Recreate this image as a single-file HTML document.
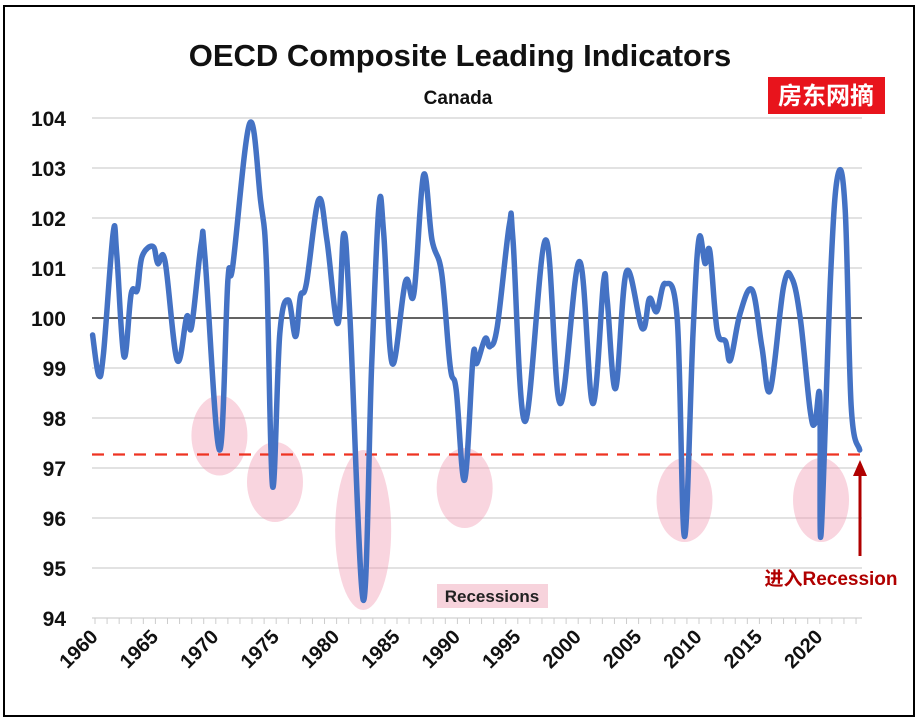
<!DOCTYPE html>
<html><head><meta charset="utf-8"><style>
body{margin:0;background:#fff;}
svg{display:block;font-family:"Liberation Sans","Noto Sans CJK SC",sans-serif;}
</style></head><body>
<svg id="chart" width="919" height="721" viewBox="0 0 919 721">
<rect x="4" y="6" width="910" height="710" fill="#fff" stroke="#000" stroke-width="2"/>
<text x="460" y="66" text-anchor="middle" font-size="31" font-weight="bold" fill="#111">OECD Composite Leading Indicators</text>
<text x="458" y="104" text-anchor="middle" font-size="19" font-weight="bold" fill="#111">Canada</text>
<rect x="768" y="77" width="117" height="37" fill="#e8141c"/>
<text x="826" y="104" text-anchor="middle" font-size="24" font-weight="bold" fill="#fff">房东网摘</text>
<g id="grid"></g>
<g id="shade"></g>
<g id="marks"></g>
<rect x="437" y="584" width="111" height="24" fill="#f7d3dc"/>
<text x="492" y="602" text-anchor="middle" font-size="17" font-weight="bold" fill="#222">Recessions</text>
<line x1="860" y1="556" x2="860" y2="474" stroke="#b00000" stroke-width="3"/>
<polygon points="860,460 853,476 867,476" fill="#b00000"/>
<text x="831" y="585" text-anchor="middle" font-size="19" font-weight="bold" fill="#b00000">进入Recession</text>
</svg>
<script>
const yTicks=[94,95,96,97,98,99,100,101,102,103,104];
const xTickYears=[1960,1965,1970,1975,1980,1985,1990,1995,2000,2005,2010,2015,2020];
const years=[1959.8,1960.3,1960.7,1961.5,1961.8,1962.4,1963.0,1963.5,1963.9,1964.8,1965.2,1965.8,1966.8,1967.6,1968.0,1968.8,1969.1,1970.3,1971.0,1971.4,1972.8,1973.7,1974.2,1974.7,1975.3,1976.0,1976.6,1977.0,1977.5,1978.5,1979.2,1980.1,1980.6,1981.1,1982.2,1982.9,1983.5,1983.9,1984.6,1985.7,1986.4,1987.2,1987.9,1988.7,1989.4,1989.9,1990.6,1991.3,1991.6,1992.3,1992.7,1993.3,1994.3,1994.6,1995.6,1997.3,1998.5,2000.1,2001.2,2002.1,2002.4,2003.1,2004.0,2005.3,2005.9,2006.5,2007.2,2008.2,2008.8,2009.5,2010.0,2010.5,2010.9,2011.5,2012.2,2012.6,2013.4,2014.4,2015.2,2015.9,2017.0,2017.7,2018.4,2019.2,2019.6,2020.0,2020.1,2020.9,2021.5,2022.1,2022.6,2023.3];
const cli=[99.66,98.86,99.29,101.69,101.29,99.23,100.49,100.56,101.23,101.43,101.09,101.13,99.16,100.03,99.83,101.49,101.23,97.36,100.76,101.03,103.89,102.36,101.03,96.63,99.69,100.36,99.63,100.43,100.69,102.36,101.56,99.89,101.69,100.03,94.36,99.03,102.23,101.69,99.09,100.73,100.49,102.86,101.56,100.89,99.03,98.56,96.76,99.23,99.09,99.59,99.43,99.83,101.86,101.56,97.93,101.56,98.29,101.13,98.29,100.73,100.36,98.59,100.93,99.79,100.39,100.13,100.69,99.96,95.63,99.69,101.59,101.09,101.33,99.76,99.53,99.16,100.09,100.56,99.43,98.56,100.63,100.79,99.96,98.16,97.89,98.43,95.66,100.89,102.86,102.16,98.23,97.36];
const recessionYears=[1970.3,1974.9,1982.2,1990.6,2008.8,2020.1];
const recessionCenters=[97.65,96.72,95.76,96.6,96.36,96.36];
const recessionHalfHeights=[0.8,0.8,1.6,0.8,0.84,0.84];
const baseline=100;
const threshold=97.27;
const X=y=>95+(y-1960)*12.08;
const Y=v=>118+(104-v)*50;
const NS='http://www.w3.org/2000/svg';
function mk(tag,attrs,parent){const e=document.createElementNS(NS,tag);for(const k in attrs)e.setAttribute(k,attrs[k]);parent.appendChild(e);return e;}
const grid=document.getElementById('grid'),shade=document.getElementById('shade'),marks=document.getElementById('marks');
yTicks.forEach(t=>{
  const l=mk('line',{x1:92,x2:862,y1:Y(t),y2:Y(t),stroke:'#d9d9d9','stroke-width':1.5},grid);
  
  
  const tx=mk('text',{x:66,y:Y(t)+8,'text-anchor':'end','font-size':21,'font-weight':'bold',fill:'#111'},grid);
  tx.textContent=t;
  
  
});
for(let yr=1960;yr<=2023;yr++){
  const tk=mk('line',{x1:X(yr),x2:X(yr),y1:Y(94),y2:Y(94)+6,stroke:'#ccc','stroke-width':1},grid);
  
  
}
xTickYears.forEach(yr=>{
  const tx=mk('text',{x:0,y:0,'text-anchor':'end','font-size':20,'font-weight':'bold',fill:'#111',transform:`translate(${X(yr)+4},${638}) rotate(-45)`},grid);
  tx.textContent=yr;
  
  
});
recessionYears.forEach((yr,i)=>{
  const e=mk('ellipse',{cx:X(yr),cy:Y(recessionCenters[i]),rx:28,ry:recessionHalfHeights[i]*50,fill:'rgba(240,150,175,0.4)'},shade);
  
  
});
const bl=mk('line',{x1:92,x2:862,y1:Y(baseline),y2:Y(baseline),stroke:'#111','stroke-width':1.3},marks);


const th=mk('line',{x1:92,x2:862,y1:Y(threshold),y2:Y(threshold),stroke:'#ee3322','stroke-width':2.2,'stroke-dasharray':'12,9'},marks);


const pts=years.map((yr,i)=>[X(yr),Y(cli[i])]);
let d='M'+pts[0][0].toFixed(1)+','+pts[0][1].toFixed(1);
const k=0.18;
for(let i=0;i<pts.length-1;i++){
  const p0=pts[Math.max(0,i-1)],p1=pts[i],p2=pts[i+1],p3=pts[Math.min(pts.length-1,i+2)];
  const c1=[p1[0]+(p2[0]-p0[0])*k,p1[1]+(p2[1]-p0[1])*k];
  const c2=[p2[0]-(p3[0]-p1[0])*k,p2[1]-(p3[1]-p1[1])*k];
  d+=' C'+c1.map(v=>v.toFixed(1)).join(',')+' '+c2.map(v=>v.toFixed(1)).join(',')+' '+p2.map(v=>v.toFixed(1)).join(',');
}
const p=mk('path',{d:d,fill:'none',stroke:'#4472c4','stroke-width':5.5,'stroke-linejoin':'round','stroke-linecap':'round'},marks);


</script>
</body></html>
